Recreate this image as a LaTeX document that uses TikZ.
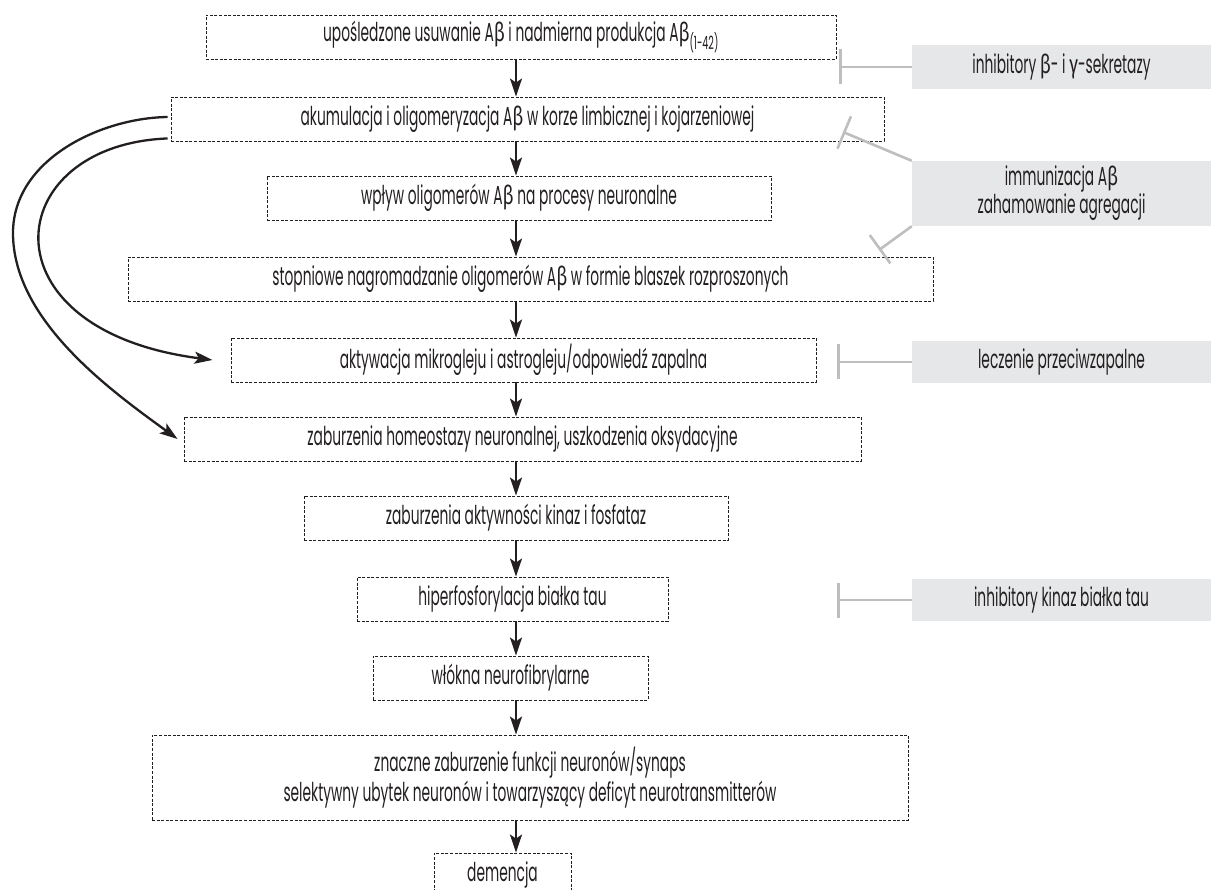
\documentclass[tikz,border=0pt]{standalone}
\usepackage{fontspec}
\setmainfont{Poppins}[FakeStretch=0.53]
\newfontfamily\grk{Fira Sans}[FakeStretch=0.7]
\newcommand{\grbeta}{{\grk β}}
\newcommand{\grgamma}{{\grk γ}}
\usetikzlibrary{arrows.meta}
\definecolor{ink}{HTML}{231F20}
\definecolor{inhib}{HTML}{BCBEC0}
\definecolor{panel}{HTML}{E6E7E8}
\begin{document}
\begin{tikzpicture}[x=1pt,y=-1pt,
  stage/.style={draw=ink, dash pattern=on 3pt off 1.6pt, line width=0.9pt, inner sep=0pt,
    text=ink, font=\fontsize{26}{30}\selectfont, align=center},
  therapy/.style={fill=panel, inner sep=0pt, text=ink, font=\fontsize{26}{28}\selectfont,
    align=center, minimum width=299pt},
  flow/.style={draw=ink, line width=2.3pt, -{Stealth[length=18pt,width=12pt,inset=4pt]}},
  block/.style={draw=inhib, line width=2.6pt, -{Bar[width=35pt]}}]
\useasboundingbox (0,0) rectangle (1211,890);

% main chain
\node[stage, minimum width=630pt, minimum height=44pt] (b1) at (521,37)
  {upośledzone usuwanie A\grbeta{} i nadmierna produkcja A\grbeta\textsubscript{(1-42)}};
\node[stage, minimum width=713pt, minimum height=44pt] (b2) at (527.5,119)
  {akumulacja i oligomeryzacja A\grbeta{} w korze limbicznej i kojarzeniowej};
\node[stage, minimum width=504pt, minimum height=44pt] (b3) at (519,198)
  {wpływ oligomerów A\grbeta{} na procesy neuronalne};
\node[stage, minimum width=805pt, minimum height=44pt] (b4) at (530.5,279)
  {stopniowe nagromadzanie oligomerów A\grbeta{} w formie blaszek rozproszonych};
\node[stage, minimum width=585pt, minimum height=44pt] (b5) at (523.5,360)
  {aktywacja mikrogleju i astrogleju/odpowiedź zapalna};
\node[stage, minimum width=677pt, minimum height=44pt] (b6) at (522.5,439)
  {zaburzenia homeostazy neuronalnej, uszkodzenia oksydacyjne};
\node[stage, minimum width=424pt, minimum height=44pt] (b7) at (516,518)
  {zaburzenia aktywności kinaz i fosfataz};
\node[stage, minimum width=311pt, minimum height=44pt] (b8) at (512.5,599)
  {hiperfosforylacja białka tau};
\node[stage, minimum width=275pt, minimum height=44pt] (b9) at (510.5,678)
  {włókna neurofibrylarne};
\node[stage, minimum width=756pt, minimum height=85pt] (b10) at (530,777.5)
  {znaczne zaburzenie funkcji neuronów/synaps\\selektywny ubytek neuronów i towarzyszący deficyt neurotransmitterów};
\node[stage, minimum width=137pt, minimum height=44pt] (b11) at (502.5,875)
  {demencja};

% therapies
\node[therapy, minimum height=44pt] (r1) at (1061.5,67)
  {inhibitory \grbeta- i \grgamma-sekretazy};
\node[therapy, minimum height=65pt] (r2) at (1061.5,193.5)
  {immunizacja A\grbeta\\zahamowanie agregacji};
\node[therapy, minimum height=42pt] (r3) at (1061.5,362)
  {leczenie przeciwzapalne};
\node[therapy, minimum height=42pt] (r4) at (1061.5,600)
  {inhibitory kinaz białka tau};

% vertical flow
\coordinate (ax) at (516,0);
\draw[flow] (b1.south -| ax) -- (b2.north -| ax);
\draw[flow] (b2.south -| ax) -- (b3.north -| ax);
\draw[flow] (b3.south -| ax) -- (b4.north -| ax);
\draw[flow] (b4.south -| ax) -- (b5.north -| ax);
\draw[flow] (b5.south -| ax) -- (b6.north -| ax);
\draw[flow] (b6.south -| ax) -- (b7.north -| ax);
\draw[flow] (b7.south -| ax) -- (b8.north -| ax);
\draw[flow] (b8.south -| ax) -- (b9.north -| ax);
\draw[flow] (b9.south -| ax) -- (b10.north -| ax);
\draw[flow] (b10.south -| ax) -- (b11.north -| ax);

% side curves
\coordinate (cl) at (13,233);
\draw[flow] ([xshift=-3pt,yshift=2pt]b2.west) .. controls (100,118) and (13,160) .. (cl)
  .. controls (13,320) and (110,390) .. ([xshift=-6pt]b6.west);
\draw[flow] ([xshift=-3pt,yshift=3pt]b2.south west) .. controls (0,145) and (-20,330) .. ([xshift=-18pt]b5.west);

% inhibition
\coordinate (t1) at (839,67);
\coordinate (t2) at (843,132);
\coordinate (t3) at (879,250);
\coordinate (t4) at (837,362);
\coordinate (t5) at (837,600);
\draw[block] (r1.west) -- (t1);
\draw[block] (r2.north west) -- (t2);
\draw[block] (r2.south west) -- (t3);
\draw[block] (r3.west) -- (t4);
\draw[block] (r4.west) -- (t5);
\end{tikzpicture}
\end{document}
